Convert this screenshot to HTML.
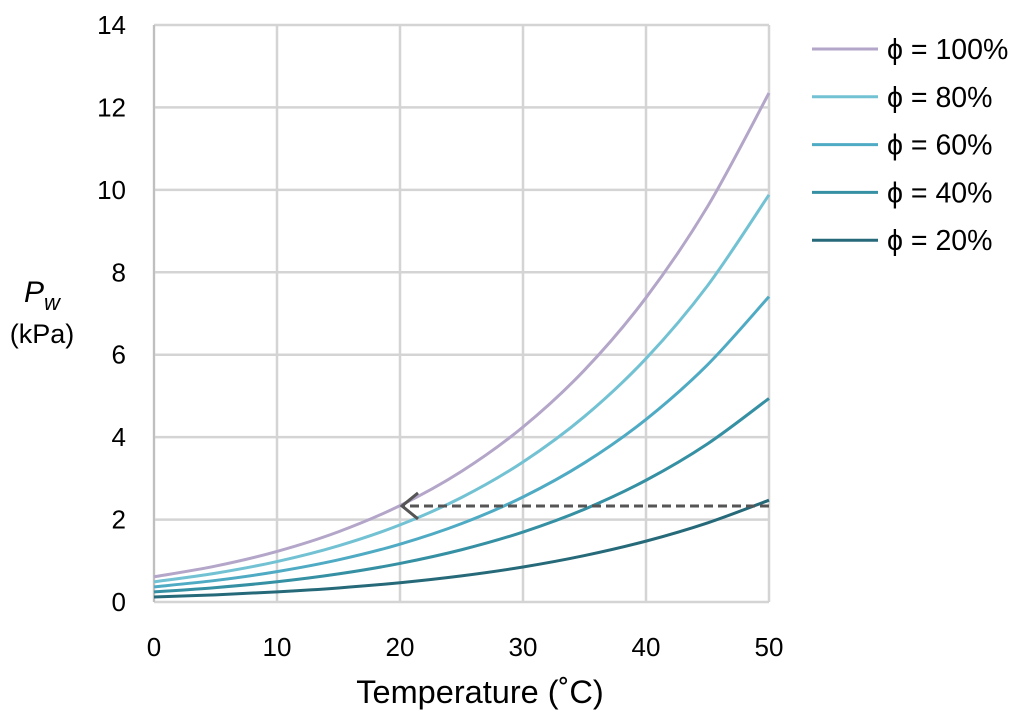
<!DOCTYPE html>
<html><head><meta charset="utf-8"><style>
body{margin:0;background:#fff;font-family:"Liberation Sans",sans-serif;}
svg text{font-family:"Liberation Sans","DejaVu Sans",sans-serif;fill:#000;}
</style></head><body>
<svg id="chart" width="1024" height="718" viewBox="0 0 1024 718">
<g id="grid"></g><g id="series"></g><g id="ann"></g><g id="labels"></g><g id="legend"></g>
</svg>
<script>
const temps=[0,5,10,15,20,25,30,35,40,45,50];
const rh100=[0.611,0.872,1.228,1.705,2.339,3.169,4.246,5.628,7.384,9.593,12.35];
const rh80=[0.489,0.698,0.982,1.364,1.871,2.535,3.397,4.502,5.907,7.674,9.88];
const rh60=[0.367,0.523,0.737,1.023,1.403,1.901,2.548,3.377,4.430,5.756,7.41];
const rh40=[0.244,0.349,0.491,0.682,0.936,1.268,1.698,2.251,2.954,3.837,4.94];
const rh20=[0.122,0.174,0.246,0.341,0.468,0.634,0.849,1.126,1.477,1.919,2.47];
const seriesNames=["ϕ = 100%","ϕ = 80%","ϕ = 60%","ϕ = 40%","ϕ = 20%"];
const xTicks=[0,10,20,30,40,50];
const yTicks=[0,2,4,6,8,10,12,14];
const arrowY=2.33, arrowFrom=50, arrowTo=20;
const colors=["#b3a6c9","#72c2d4","#4fabc4","#3690a3","#266a7a"];
const X0=154,X1=769,Y0=602,Y1=25;
const xs=v=>X0+(v-0)/(50-0)*(X1-X0);
const ys=v=>Y0-(v-0)/(14-0)*(Y0-Y1);
const NS="http://www.w3.org/2000/svg";
function mk(tag,attrs,parent){const e=document.createElementNS(NS,tag);for(const k in attrs)e.setAttribute(k,attrs[k]);parent.appendChild(e);return e;}
const grid=document.getElementById('grid'),lab=document.getElementById('labels');
xTicks.forEach(t=>{const l=mk('line',{x1:xs(t),x2:xs(t),y1:Y1,y2:Y0,stroke:'#d4d4d4','stroke-width':2.5},grid);

const tx=mk('text',{x:xs(t),y:656,'font-size':26,'text-anchor':'middle'},lab);tx.textContent=t;
});
yTicks.forEach(t=>{const l=mk('line',{x1:X0,x2:X1,y1:ys(t),y2:ys(t),stroke:'#d4d4d4','stroke-width':2.5},grid);

const tx=mk('text',{x:126,y:ys(t)+9,'font-size':26,'text-anchor':'end'},lab);tx.textContent=t;
});
const ax=mk('line',{x1:X0,x2:X0,y1:Y1,y2:Y0,stroke:'#bfbfbf','stroke-width':2},grid);

function path(vals){const p=temps.map((t,i)=>[xs(t),ys(vals[i])]);let d=`M${p[0][0]},${p[0][1]}`;
for(let i=0;i<p.length-1;i++){const a=p[Math.max(0,i-1)],b=p[i],c=p[i+1],e=p[Math.min(p.length-1,i+2)];
d+=` C${b[0]+(c[0]-a[0])/6},${b[1]+(c[1]-a[1])/6} ${c[0]-(e[0]-b[0])/6},${c[1]-(e[1]-b[1])/6} ${c[0]},${c[1]}`;}return d;}
const sg=document.getElementById('series');
[rh100,rh80,rh60,rh40,rh20].forEach((s,i)=>{const p=mk('path',{d:path(s),fill:'none',stroke:colors[i],'stroke-width':3},sg);
});
const an=document.getElementById('ann');
const dl=mk('line',{x1:xs(arrowFrom),x2:xs(arrowTo)+4,y1:ys(arrowY),y2:ys(arrowY),stroke:'#555','stroke-width':3,'stroke-dasharray':'9,5'},an);

const ah=mk('polyline',{points:`${xs(arrowTo)+18},${ys(arrowY)-13} ${xs(arrowTo)+2},${ys(arrowY)} ${xs(arrowTo)+18},${ys(arrowY)+13}`,fill:'none',stroke:'#555','stroke-width':3},an);

const lg=document.getElementById('legend');
seriesNames.forEach((n,i)=>{const y=49+i*47.8;
const l=mk('line',{x1:812,x2:878,y1:y,y2:y,stroke:colors[i],'stroke-width':3},lg);

const t=mk('text',{x:887,y:y+10,'font-size':28.5},lg);t.textContent=n;
});
</script>
<svg style="position:absolute;left:0;top:0" width="1024" height="718">
<text x="480" y="703" font-size="32.5" text-anchor="middle">Temperature (˚C)</text>
<text x="24" y="302" font-size="30" font-style="italic">P<tspan font-size="22" dy="8">w</tspan></text>
<text x="42" y="343" font-size="27" text-anchor="middle">(kPa)</text>
</svg>
</body></html>
